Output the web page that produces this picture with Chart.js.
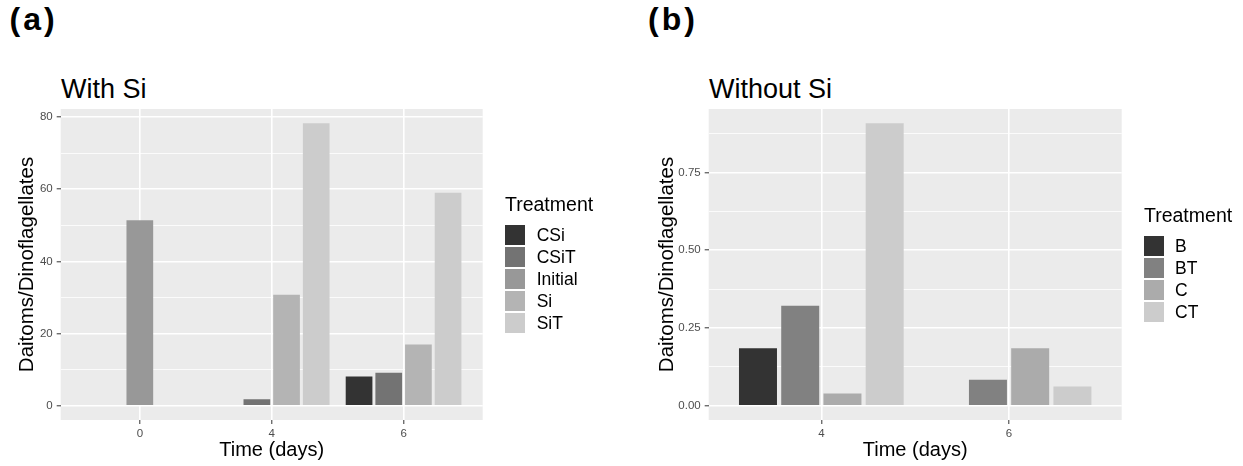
<!DOCTYPE html>
<html>
<head>
<meta charset="utf-8">
<script src="https://cdn.jsdelivr.net/npm/chart.js@4.4.1/dist/chart.umd.min.js"></script>
<style>
  body { margin: 0; background: #fff; font-family: "Liberation Sans", Arial, sans-serif; }
  #page { position: relative; width: 1243px; height: 466px; overflow: hidden; }
  canvas { position: absolute; top: 0; }
  .txt { position: absolute; line-height: 1; white-space: nowrap; color: #000; }
  .tag { font-weight: bold; font-size: 32px; letter-spacing: 3px; }
  .title { font-size: 27px; }
  .head { font-size: 19.5px; }
  .key { position: absolute; width: 20px; height: 20px; }
  .lab { position: absolute; font-size: 17.5px; line-height: 20px; white-space: nowrap; }
</style>
</head>
<body>
<div id="page">
  <div class="txt tag" style="left:9.5px; top:3px;">(a)</div>
  <div class="txt tag" style="left:648px; top:3px;">(b)</div>
  <div class="txt title" style="left:61px; top:76px;">With Si</div>
  <div class="txt title" style="left:709px; top:76px;">Without Si</div>
  <canvas id="chartWithSi" width="620" height="466" style="left:0;"></canvas>
  <canvas id="chartWithoutSi" width="623" height="466" style="left:620px;"></canvas>
</div>
<script>
// ---- data: panel (a) With Si ----
const daysA = ['0', '4', '6'];
const treatA = ['CSi', 'CSiT', 'Initial', 'Si', 'SiT'];
const CSi     = [null, 0,    8.1];
const CSiT    = [null, 1.8,  9.2];
const Initial = [51.4, null, null];
const Si      = [null, 30.8, 17.0];
const SiT     = [null, 78.3, 59.0];
const yTicksA  = [0, 20, 40, 60, 80];
const yLabelsA = ['0', '20', '40', '60', '80'];

// ---- data: panel (b) Without Si ----
const daysB = ['4', '6'];
const treatB = ['B', 'BT', 'C', 'CT'];
const B  = [0.185, 0];
const BT = [0.322, 0.084];
const C  = [0.040, 0.185];
const CT = [0.9085, 0.062];
const yTicksB  = [0, 0.25, 0.5, 0.75];
const yLabelsB = ['0.00', '0.25', '0.50', '0.75'];

// grey fills (scale_fill_grey)
const greysA = ['#333333', '#737373', '#989898', '#B4B4B4', '#CCCCCC'];
const greysB = ['#333333', '#818181', '#ABABAB', '#CCCCCC'];

Chart.defaults.font.family = '"Liberation Sans", Arial, sans-serif';

// grey panel background like ggplot
const panelBg = {
  id: 'panelBg',
  beforeDraw(chart) {
    const a = chart.chartArea;
    chart.ctx.save();
    chart.ctx.fillStyle = '#EBEBEB';
    chart.ctx.fillRect(a.left, a.top, a.right - a.left, a.bottom - a.top);
    chart.ctx.restore();
  }
};

function buildLegend(left, headTop, keyTop, labX, names, colors) {
  const page = document.getElementById('page');
  const head = document.createElement('div');
  head.className = 'txt head';
  head.style.left = left + 'px';
  head.style.top = headTop + 'px';
  head.textContent = 'Treatment';
  page.appendChild(head);
  names.forEach((n, i) => {
    const k = document.createElement('div');
    k.className = 'key';
    k.style.left = left + 'px';
    k.style.top = (keyTop + i * 22.15) + 'px';
    k.style.background = colors[i];
    page.appendChild(k);
    const l = document.createElement('div');
    l.className = 'lab';
    l.style.left = labX + 'px';
    l.style.top = (keyTop + i * 22.15) + 'px';
    l.textContent = n;
    page.appendChild(l);
  });
}

function makePanel(canvas, days, names, series, colors, yTicks, yLabels, cfg) {
  const all = series.flat().filter(v => v !== null);
  const top = Math.max(...all);
  const step = yTicks[1] - yTicks[0];
  // major + minor breaks
  const yVals = [];
  yTicks.forEach(v => {
    yVals.push(v);
    if (v + step / 2 <= top * 1.05) yVals.push(v + step / 2);
  });

  new Chart(canvas, {
    type: 'bar',
    data: {
      labels: days.map((d, i) => i),
      datasets: names.map((n, k) => ({
        label: n,
        data: series[k],
        backgroundColor: colors[k],
        borderWidth: 0,
        skipNull: true,
        categoryPercentage: 0.9,
        barPercentage: 0.9,
        maxBarThickness: cfg.barMax,
      })),
    },
    options: {
      responsive: false,
      animation: false,
      layout: { padding: { left: 0, top: 109, right: cfg.padRight, bottom: 0 } },
      plugins: { legend: { display: false }, tooltip: { enabled: false } },
      scales: {
        x: {
          type: 'linear',
          offset: false,
          min: -0.6,
          max: days.length - 0.4,
          afterBuildTicks: (ax) => { ax.ticks = days.map((d, i) => ({ value: i })); },
          afterFit: (s) => { s.height = 46; },
          ticks: {
            autoSkip: false, maxRotation: 0, padding: 3,
            color: '#4D4D4D', font: { size: 11.5 },
            callback: (v, i) => days[i],
          },
          grid: { offset: false, color: '#FFFFFF', lineWidth: 1.6, tickLength: 4, tickColor: '#333333', tickWidth: 1 },
          border: { display: false },
          title: { display: true, text: 'Time (days)', color: '#000', font: { size: 20 }, padding: { top: 0, bottom: 4 } },
        },
        y: {
          type: 'linear',
          min: -top * 0.05,
          max: top * 1.05,
          afterBuildTicks: (ax) => { ax.ticks = yVals.map(v => ({ value: v })); },
          afterFit: (s) => { s.width = cfg.yWidth; },
          ticks: {
            autoSkip: false, padding: 4,
            color: '#4D4D4D', font: { size: 11.5 },
            callback: (v, i) => (i % 2 === 0 ? yLabels[i / 2] : ''),
          },
          grid: {
            color: '#FFFFFF',
            lineWidth: (ctx) => (ctx.index % 2 === 0 ? 1.6 : 0.8),
            tickLength: 4,
            tickWidth: 1,
            tickColor: (ctx) => (ctx.index % 2 === 0 ? '#333333' : 'rgba(0,0,0,0)'),
          },
          border: { display: false },
          title: { display: true, text: 'Daitoms/Dinoflagellates', color: '#000', font: { size: 20.5 }, padding: { top: cfg.titlePad, bottom: 0 } },
        },
      },
    },
    plugins: [panelBg],
  });
}

makePanel(document.getElementById('chartWithSi'), daysA, treatA,
  [CSi, CSiT, Initial, Si, SiT], greysA, yTicksA, yLabelsA,
  { padRight: 137.3, yWidth: 60.7, barMax: 26.7, titlePad: 15 });

makePanel(document.getElementById('chartWithoutSi'), daysB, treatB,
  [B, BT, C, CT], greysB, yTicksB, yLabelsB,
  { padRight: 121.3, yWidth: 88.7, barMax: 38, titlePad: 35 });

buildLegend(505, 195.2, 224.7, 536.7, treatA, greysA);
buildLegend(1144, 205.8, 236, 1175, treatB, greysB);
</script>
</body>
</html>
